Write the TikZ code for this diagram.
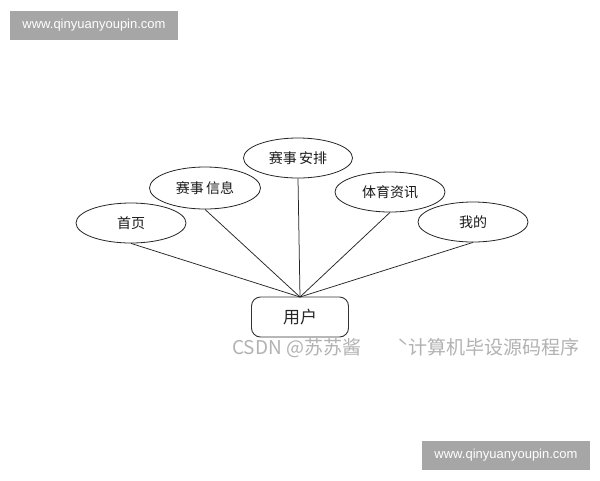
\documentclass[tikz,border=0pt]{standalone}
\usepackage{fontspec}
\setmainfont{Liberation Sans}
\newfontfamily\cjk{Noto Sans CJK SC}
\usetikzlibrary{shapes.geometric}
\begin{document}
\begin{tikzpicture}[x=1pt,y=-1pt,
  ent/.style={ellipse,draw=black!85,line width=0.8pt,minimum width=110pt,minimum height=40pt,inner sep=0pt,text=black!90,font=\cjk\fontsize{14}{16}\selectfont},
  userbox/.style={rectangle,rounded corners=9pt,draw=black!80,line width=0.9pt,minimum width=97pt,minimum height=40pt,inner sep=0pt,text=black!85,font=\cjk\fontsize{17}{19}\selectfont},
  link/.style={draw=black!85,line width=0.75pt},
  wm/.style={fill=black!35,text=white,minimum width=168pt,minimum height=29pt,inner sep=0pt,font=\fontsize{13}{15}\selectfont},
  csdn/.style={text=black!30,inner sep=0pt,font=\cjk\fontsize{19}{21}\selectfont}]
\useasboundingbox (0,0) rectangle (600,480);
\fill[white] (0,0) rectangle (600,480);
\node[wm] (wm1) at (94,25) {www.qinyuanyoupin.com};
\node[wm] (wm2) at (506,455) {www.qinyuanyoupin.com};
\node[ent] (home) at (131,223) {首页};
\node[ent,minimum width=111pt,minimum height=42pt] (info) at (205,188) {赛事\,信息};
\node[ent,minimum width=109pt] (sched) at (298,158) {赛事\,安排};
\node[ent] (news) at (390,192) {体育资讯};
\node[ent] (mine) at (473,222) {我的};
\node[userbox] (user) at (300,317) {用户};
\coordinate (apex) at (300,297);
\draw[link] (home.south) -- (apex);
\draw[link] (info.south) -- (apex);
\draw[link] (sched.south) -- (apex);
\draw[link] (news.south) -- (apex);
\draw[link] (mine.south) -- (apex);
\node[csdn,anchor=west] (mark) at (232,348) {CSDN @苏苏酱\hspace{1.9em}ˋ计算机毕设源码程序};
\end{tikzpicture}
\end{document}
